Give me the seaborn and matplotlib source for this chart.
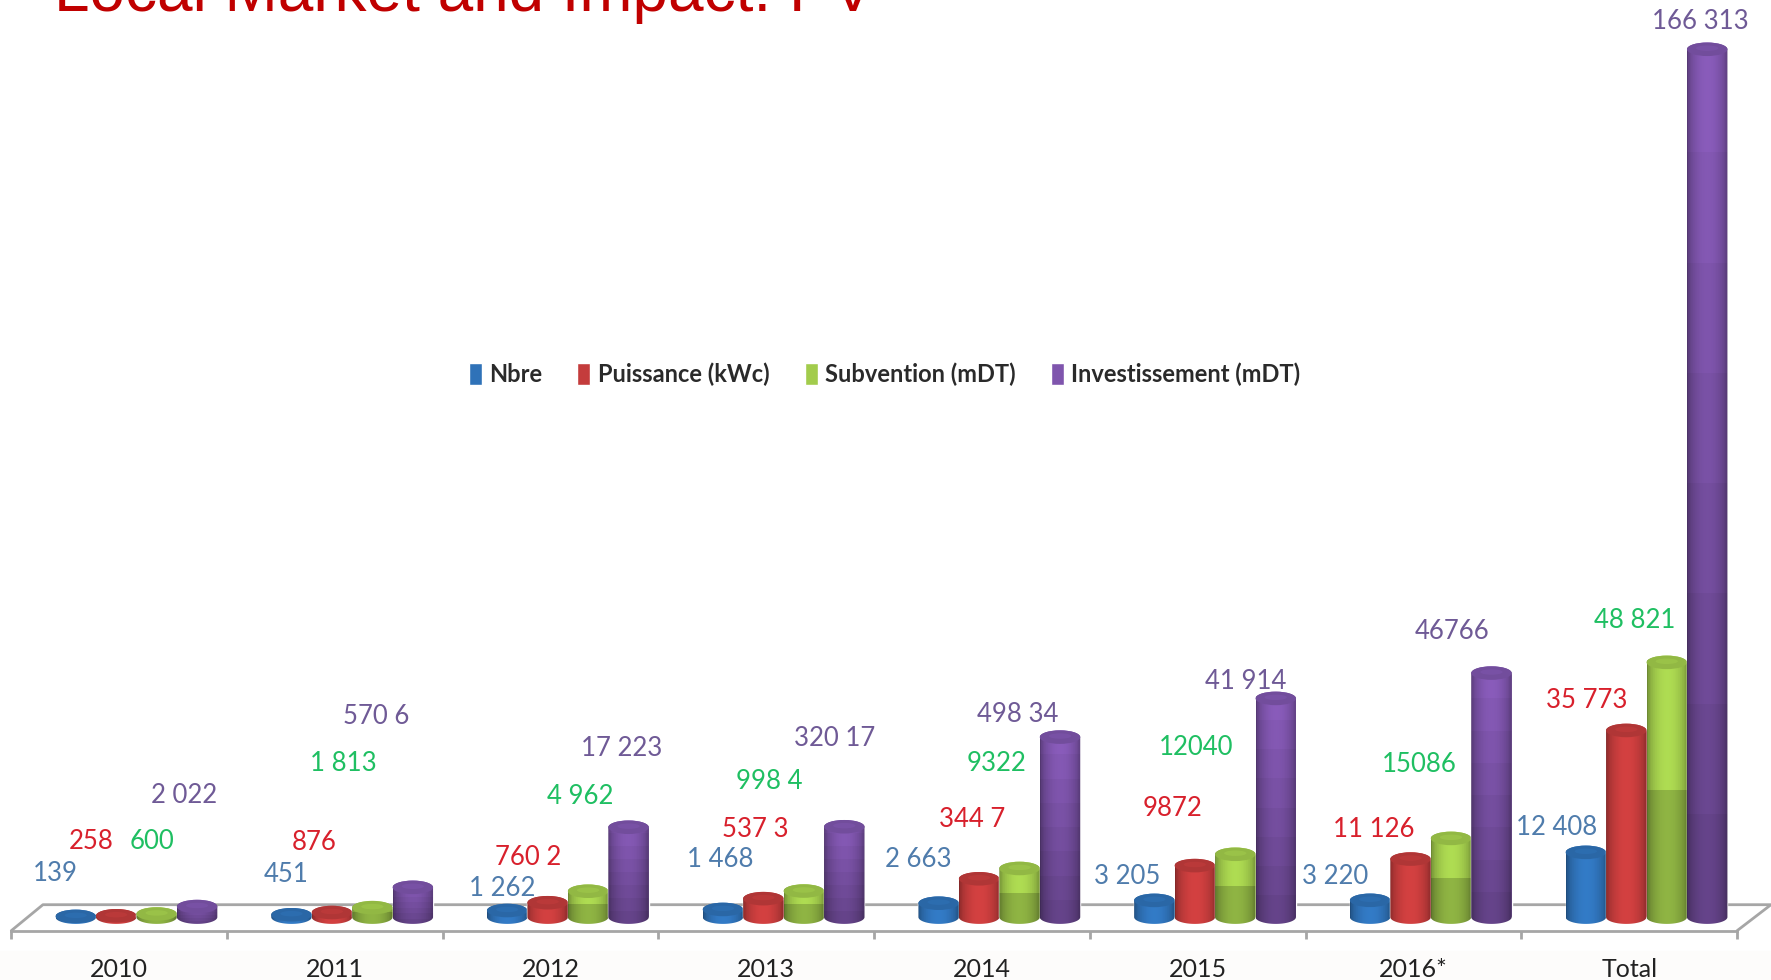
import numpy as np
import pandas as pd
import matplotlib
matplotlib.use('Agg')
import matplotlib.pyplot as plt
from matplotlib.patches import Ellipse, Rectangle
from matplotlib.path import Path
from matplotlib.colors import to_rgb
import seaborn as sns

# Data
years = ['2010', '2011', '2012', '2013', '2014', '2015', '2016*', 'Total']
nbre = [139, 451, 1262, 1468, 2663, 3205, 3220, 12408]
puissance = [258, 876, 2760, 3537, 7344, 9872, 11126, 35773]
subvention = [600, 1813, 4962, 4998, 9322, 12040, 15086, 48821]
investissement = [2022, 5706, 17223, 17320, 34498, 41914, 46766, 166313]

# labels as printed on the slide (some are scrambled there)
nbre_labels = ['139', '451', '1 262', '1 468', '2 663', '3 205', '3 220', '12 408']
puissance_labels = ['258', '876', '760 2', '537 3', '344 7', '9872', '11 126', '35 773']
subvention_labels = ['600', '1 813', '4 962', '998 4', '9322', '12040', '15086', '48 821']
investissement_labels = ['2 022', '570 6', '17 223', '320 17', '498 34', '41 914', '46766', '166 313']

series_names = ['Nbre', 'Puissance (kWc)', 'Subvention (mDT)', 'Investissement (mDT)']

df = pd.DataFrame({'year': years, series_names[0]: nbre, series_names[1]: puissance,
                   series_names[2]: subvention, series_names[3]: investissement})
df = df.melt(id_vars='year', var_name='serie', value_name='value')

# Style
W, H = 1771, 980
REF = W / 1568.0  # picture coordinates below were read at 1568 wide
colors = ['#2f72b8', '#c43c3c', '#a2cc4c', '#7f55ad']
band_shades = [[1.0], [1.0], [0.82, 1.0], list(np.linspace(0.74, 1.0, 8))]
label_colors = ['#4f7cac', '#d8202c', '#1fbf62', '#6f5a96']
label_font = 18.5

# label centres in picture coordinates, one row per series
nbre_pos = [(49, 773), (253, 774), (445, 787), (638, 761), (813, 761), (998, 776), (1182, 776), (1378, 733)]
puissance_pos = [(81, 745), (278, 746), (468, 759), (669, 734), (861, 726), (1038, 716), (1216, 734), (1405, 620)]
subvention_pos = [(135, 745), (304, 676), (514, 705), (681, 692), (882, 676), (1059, 662), (1257, 677), (1447, 549)]
investissement_pos = [(163, 704), (333, 634), (550, 663), (739, 654), (901, 633), (1103, 603), (1286, 559), (1505, 19)]

sns.set_theme(style='white')
plt.rcParams['font.family'] = ['Lato', 'DejaVu Sans']

fig = plt.figure(figsize=(W / 100, H / 100), dpi=100, facecolor='white')
fig.add_artist(Rectangle((0, 0), 1, 0.03, transform=fig.transFigure, color='#fdfcfb', zorder=-5))

left, right = 10 / 1568, 1538 / 1568
bottom = (H / REF - 824) / (H / REF)
ax = fig.add_axes([left, bottom, right - left, 1 - bottom])
ax.patch.set_alpha(0)

sns.barplot(data=df, x='year', y='value', hue='serie', order=years, hue_order=series_names,
            palette=colors, width=0.75, gap=0, saturation=1, errorbar=None, ax=ax)

px_per_k = 4.62  # picture px per 1000
cap_h = 12 / px_per_k * 1000
shift = 0.08
base_y = 812
ax.set_ylim(-(824 - base_y) / px_per_k * 1000, base_y / px_per_k * 1000)
ylim = ax.get_ylim()

t = np.linspace(0, 1, 64)
profile = 0.68 + 0.40 * np.sin(np.pi * t) ** 0.6

z = 3
for s, container in enumerate(ax.containers):
    rgb = np.array(to_rgb(colors[s]))
    bands = band_shades[s]
    img = np.clip(np.outer(bands, profile)[..., None] * rgb, 0, 1)
    for bar in container:
        x, w, h = bar.get_x(), bar.get_width(), bar.get_height()
        cx = x + w / 2
        a = np.linspace(0, np.pi, 40)
        # cylinder outline: bottom arc, then top arc back
        px = np.r_[cx - w / 2 * np.cos(a), cx + w / 2 * np.cos(a)]
        py = np.r_[-cap_h / 2 * np.sin(a), h + cap_h / 2 * np.sin(a)]
        outline = Path(np.c_[px, py])
        bar.set_zorder(z)
        im = ax.imshow(img, origin='lower', aspect='auto', interpolation='nearest',
                       extent=(x, x + w, -cap_h / 2, h + cap_h / 2), zorder=z + 0.1)
        im.set_clip_path(outline, transform=ax.transData)
        ax.add_patch(Ellipse((cx, h), w, cap_h, facecolor=rgb * 0.9, edgecolor='none', zorder=z + 0.2))
        ax.add_patch(Ellipse((cx, h + cap_h * 0.08), w * 0.55, cap_h * 0.4,
                             facecolor=np.clip(rgb * 1.08, 0, 1), edgecolor='none', alpha=0.3, zorder=z + 0.3))
        z += 1

# axis: bars sit behind the middle of each tick interval because of the fake depth
ax.set_xlim(-0.5 - shift, len(years) - 0.5 - shift)
ax.set_ylim(ylim)
ax.set_xticks(np.arange(len(years) + 1) - 0.5 - shift)
ax.set_xticklabels([])
ax.set_xticks(np.arange(len(years)) - shift, labels=years, minor=True)
ax.tick_params(axis='x', which='major', length=6, width=2, color='#a6a6a6', bottom=True)
ax.tick_params(axis='x', which='minor', length=0, pad=19.5, labelsize=18, labelcolor='#222222')
ax.set_xlabel('')
ax.set_ylabel('')
ax.set_yticks([])
ax.grid(False)
for name in ['top', 'left', 'right']:
    ax.spines[name].set_visible(False)
ax.spines['bottom'].set_color('#a6a6a6')
ax.spines['bottom'].set_linewidth(2)

# floor of the 3d box
back_y = 23 / 824
ax.plot([0, 28 / 1528, 1 + 30 / 1528, 1], [0, back_y, back_y, 0], transform=ax.transAxes,
        color='#a6a6a6', lw=2, clip_on=False, zorder=1)

# value labels
all_labels = [nbre_labels, puissance_labels, subvention_labels, investissement_labels]
all_pos = [nbre_pos, puissance_pos, subvention_pos, investissement_pos]
for s in range(4):
    for txt, (px, py) in zip(all_labels[s], all_pos[s]):
        fig.text(px / 1568, 1 - py / (H / REF), txt, color=label_colors[s], fontsize=label_font,
                 ha='center', va='center')

# legend
handles, labs = ax.get_legend_handles_labels()
leg = ax.legend(handles, labs, ncol=4, frameon=False, loc='center',
                bbox_to_anchor=(783 / 1568, 1 - 331 / (H / REF)), bbox_transform=fig.transFigure,
                handlelength=0.55, handleheight=1.05, handletextpad=0.3, columnspacing=1.5,
                prop={'family': 'Lato', 'weight': 'bold', 'size': 17})
for text in leg.get_texts():
    text.set_color('#2a2a2a')

# slide title, cut off at the top edge
fig.text(48 / 1568, 1 - 11 / 980, 'Local Market and Impact: PV', color='#c00000', fontsize=46,
         family='Liberation Sans', ha='left', va='baseline')

plt.savefig('out.png', dpi=100)
